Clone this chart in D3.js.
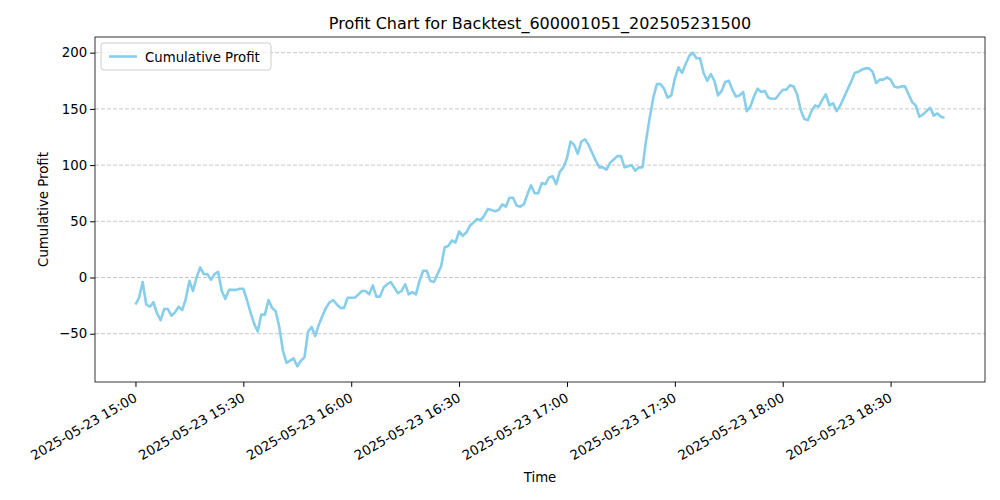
<!DOCTYPE html>
<html>
<head>
<meta charset="utf-8">
<script src="https://cdn.jsdelivr.net/npm/d3@7"></script>
<style>
  body { margin: 0; background: #fff; }
  text { font-family: "DejaVu Sans", sans-serif; }
</style>
</head>
<body>
<div id="chart"></div>
<script>
// minutes after 2025-05-23 15:00, one point per minute
var start_time = new Date(2025, 4, 23, 15, 0);
var profit_values = [
  -24,-18,-4,-24,-26,-22,-32,-38,-28,-28,-34,-31,-26,-29,-19,-3,-12,0,9,3,
  3,-2,3,5,-12,-19,-11,-11,-11,-10,-10,-20,-31,-41,-48,-33,-33,-20,-27,-30,
  -44,-65,-76,-74,-72,-79,-74,-71,-48,-44,-52,-42,-34,-27,-22,-20,-24,-27,-27,-18,
  -18,-18,-15,-12,-12,-15,-7,-17,-17,-9,-6,-4,-9,-14,-12,-6,-15,-13,-15,-3,
  6,6,-3,-4,3,10,27,28,33,31,41,37,40,46,49,52,51,55,61,60,
  59,60,65,63,71,71,64,63,65,74,82,75,75,84,83,89,90,83,94,98,
  106,121,118,110,121,123,118,111,104,98,98,96,102,105,108,108,98,99,100,95,
  98,98,122,142,160,172,172,168,160,162,177,187,182,190,197,200,195,195,182,175,
  181,175,162,166,174,175,167,161,162,165,148,152,161,168,165,166,160,159,159,163,
  167,167,171,170,163,149,141,140,148,153,152,158,163,153,155,148,153,160,167,174,
  182,183,185,186,186,183,173,176,176,178,176,170,169,170,170,163,156,153,143,145,
  148,151,144,146,143,142
];
var tick_labels = ["2025-05-23 15:00","2025-05-23 15:30","2025-05-23 16:00","2025-05-23 16:30",
  "2025-05-23 17:00","2025-05-23 17:30","2025-05-23 18:00","2025-05-23 18:30"];
var y_ticks = [-50, 0, 50, 100, 150, 200];

var data = profit_values.map(function(v, i) {
    return { time: new Date(start_time.getTime() + i * 60000), value: v };
});

var width = 1000, height = 500,
    margin = { left: 95, right: 15, top: 37, bottom: 118 };

var svg = d3.select("#chart").append("svg")
    .attr("width", width).attr("height", height);

var t_ext = d3.extent(data, function(d) { return d.time; }),
    t_pad = (t_ext[1] - t_ext[0]) * 0.05;
var x = d3.scaleTime()
    .domain([new Date(+t_ext[0] - t_pad), new Date(+t_ext[1] + t_pad)])
    .range([margin.left, width - margin.right]);

var v_ext = d3.extent(profit_values), v_pad = (v_ext[1] - v_ext[0]) * 0.05;
var y = d3.scaleLinear()
    .domain([v_ext[0] - v_pad, v_ext[1] + v_pad])
    .range([height - margin.bottom, margin.top]);

// grid
svg.append("g").selectAll("line").data(y_ticks).enter().append("line")
    .attr("x1", margin.left).attr("x2", width - margin.right)
    .attr("y1", function(d) { return y(d); }).attr("y2", function(d) { return y(d); })
    .attr("stroke", "#c8c8c8").attr("stroke-width", 1)
    .attr("stroke-dasharray", "4,2");

// line
svg.append("path").datum(data)
    .attr("fill", "none").attr("stroke", "#87ceeb").attr("stroke-width", 2.6)
    .attr("stroke-linejoin", "round")
    .attr("d", d3.line()
        .x(function(d) { return x(d.time); })
        .y(function(d) { return y(d.value); }));

// frame
svg.append("rect")
    .attr("x", margin.left).attr("y", margin.top)
    .attr("width", width - margin.left - margin.right)
    .attr("height", height - margin.top - margin.bottom)
    .attr("fill", "none").attr("stroke", "#000").attr("stroke-width", 0.8);

// x axis
var x_tick_times = tick_labels.map(function(_, i) {
    return new Date(start_time.getTime() + i * 30 * 60000);
});
var x_axis = svg.append("g")
    .attr("transform", "translate(0," + (height - margin.bottom) + ")")
    .call(d3.axisBottom(x).tickValues(x_tick_times)
        .tickFormat(function(d, i) { return tick_labels[i]; })
        .tickSizeOuter(0).tickSize(4.9));
x_axis.select(".domain").remove();
x_axis.selectAll("text")
    .attr("font-size", "13.3px").attr("font-family", "DejaVu Sans, sans-serif")
    .attr("fill", "#000")
    .attr("text-anchor", "end")
    .attr("dy", "0.7em")
    .attr("transform", "rotate(-30, 0, 9)")
    .attr("y", 9).attr("x", -3);

// y axis
var y_axis = svg.append("g")
    .attr("transform", "translate(" + margin.left + ",0)")
    .call(d3.axisLeft(y).tickValues(y_ticks).tickSize(4.9).tickSizeOuter(0));
y_axis.select(".domain").remove();
y_axis.selectAll("text")
    .attr("font-size", "13.3px").attr("font-family", "DejaVu Sans, sans-serif")
    .attr("fill", "#000");

// labels
svg.append("text").attr("x", (margin.left + width - margin.right) / 2).attr("y", 29)
    .attr("text-anchor", "middle").attr("font-size", "16px")
    .text("Profit Chart for Backtest_600001051_202505231500");
svg.append("text").attr("x", (margin.left + width - margin.right) / 2).attr("y", 482)
    .attr("text-anchor", "middle").attr("font-size", "13.3px").text("Time");
svg.append("text")
    .attr("transform", "translate(48," + ((margin.top + height - margin.bottom) / 2) + ") rotate(-90)")
    .attr("text-anchor", "middle").attr("font-size", "13.3px").text("Cumulative Profit");

// legend
var lg = svg.append("g").attr("transform", "translate(101,43)");
lg.append("rect").attr("width", 170).attr("height", 27).attr("rx", 3)
    .attr("fill", "#fff").attr("fill-opacity", 0.8)
    .attr("stroke", "#ccc").attr("stroke-width", 1);
lg.append("line").attr("x1", 8).attr("x2", 36).attr("y1", 13.5).attr("y2", 13.5)
    .attr("stroke", "#87ceeb").attr("stroke-width", 2.6);
lg.append("text").attr("x", 44).attr("y", 18.5).attr("font-size", "13.3px")
    .text("Cumulative Profit");
</script>
</body>
</html>
